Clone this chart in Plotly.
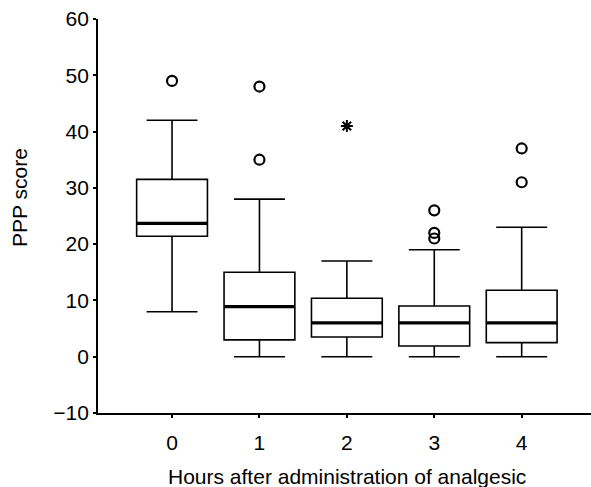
import plotly.graph_objects as go

# ---- data ----
hours = [0, 1, 2, 3, 4]
tick_labels = ["0", "1", "2", "3", "4"]
lower_whisker = [8, 0, 0, 0, 0]
q1_vals = [21.4, 3.0, 3.5, 1.9, 2.5]
median_vals = [23.7, 8.9, 6.0, 6.0, 6.0]
q3_vals = [31.5, 15.0, 10.4, 9.0, 11.8]
upper_whisker = [42, 28, 17, 19, 23]

# mild outliers (circles) and extreme outliers (asterisks)
outlier_x = [0, 1, 1, 3, 3, 3, 4, 4]
outlier_y = [49, 48, 35, 26, 22, 21, 37, 31]
extreme_x = [2]
extreme_y = [41]

y_ticks = [-10, 0, 10, 20, 30, 40, 50, 60]

# ---- styling constants ----
BOX_W = 0.81
FONT = "Liberation Sans, Arial, Helvetica, sans-serif"
FS = 21

fig = go.Figure()

fig.add_trace(go.Box(
    x=hours, q1=q1_vals, median=median_vals, q3=q3_vals,
    lowerfence=lower_whisker, upperfence=upper_whisker,
    boxpoints=False, width=BOX_W, whiskerwidth=0.72,
    line=dict(color="black", width=1.6), fillcolor="white",
    showlegend=False, hoverinfo="skip",
))

# thicker median lines
mx, my = [], []
for h, m in zip(hours, median_vals):
    mx += [h - BOX_W / 2, h + BOX_W / 2, None]
    my += [m, m, None]
fig.add_trace(go.Scatter(x=mx, y=my, mode="lines",
                         line=dict(color="black", width=3.2),
                         showlegend=False, hoverinfo="skip"))

fig.add_trace(go.Scatter(x=outlier_x, y=outlier_y, mode="markers",
                         marker=dict(symbol="circle-open", size=10, color="black",
                                     line=dict(width=2.2, color="black")),
                         showlegend=False, hoverinfo="skip"))
fig.add_trace(go.Scatter(x=extreme_x, y=extreme_y, mode="markers",
                         marker=dict(symbol="asterisk-open", size=10, color="black",
                                     line=dict(width=2, color="black")),
                         showlegend=False, hoverinfo="skip"))

fig.update_layout(
    width=591, height=487,
    margin=dict(l=98, r=0, t=19, b=74),
    paper_bgcolor="white", plot_bgcolor="white",
    font=dict(family=FONT, size=FS, color="black"),
    xaxis=dict(range=[-0.847, 4.793], tickvals=hours, ticktext=tick_labels,
               showgrid=False, zeroline=False, showline=True, linecolor="black",
               linewidth=2, ticks="outside", ticklen=3, tickwidth=2, tickcolor="black",
               ticklabelstandoff=7),
    yaxis=dict(range=[-10, 60], tickvals=y_ticks,
               showgrid=False, zeroline=False, showline=True, linecolor="black",
               linewidth=1.8, ticks="outside", ticklen=3, tickwidth=2, tickcolor="black",
               ticklabelstandoff=0),
    annotations=[
        dict(text="Hours after administration of analgesic", xref="x", yref="paper",
             x=2, y=0, yshift=-63, showarrow=False, xanchor="center", yanchor="middle",
             font=dict(size=FS)),
        dict(text="PPP score", xref="paper", yref="paper", x=0, xshift=-78,
             y=0.5457, textangle=-90, showarrow=False, xanchor="center",
             yanchor="middle", font=dict(size=FS)),
    ],
)

fig.write_html("out.html")
